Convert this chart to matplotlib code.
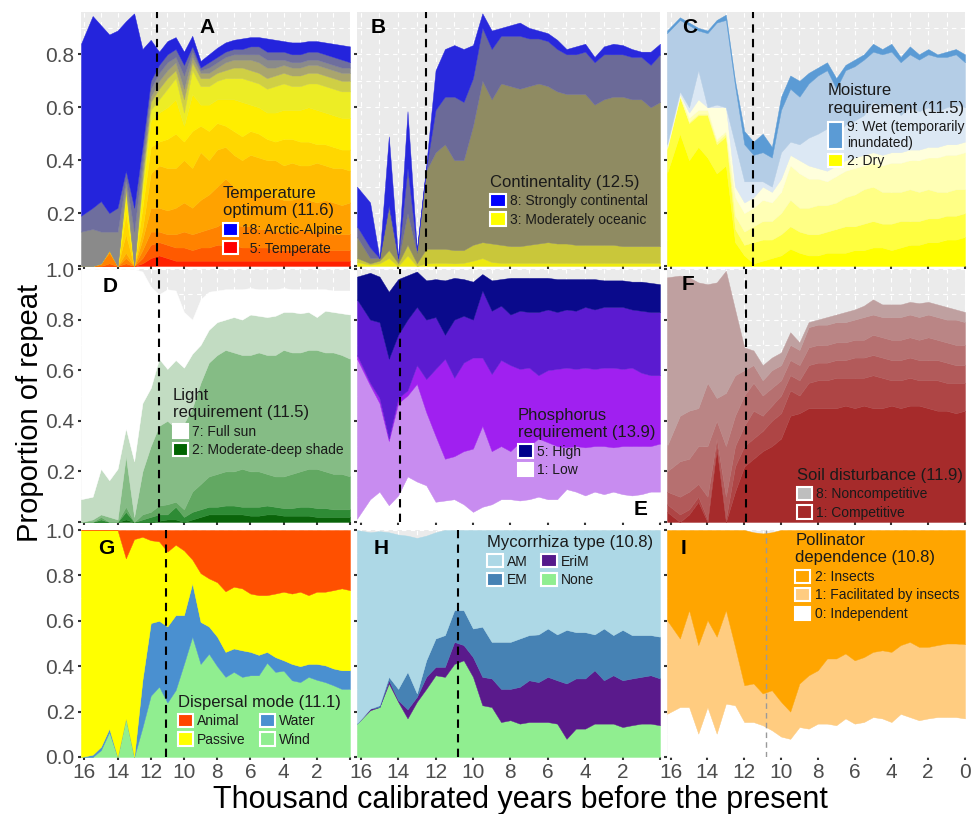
import numpy as np
import matplotlib
matplotlib.use('Agg')
import matplotlib.pyplot as plt
from matplotlib.patches import Patch, Rectangle
from matplotlib.legend_handler import HandlerPatch
from matplotlib.ticker import MultipleLocator

plt.rcParams['font.family'] = ['Liberation Sans', 'DejaVu Sans']

# time bins, thousand calibrated years BP
years = [16.2, 15.5, 15.0, 14.5, 14.0, 13.5, 13.0, 12.5, 12.0, 11.5, 11.0,
         10.5, 10.0, 9.5, 9.0, 8.5, 8.0, 7.5, 7.0, 6.5, 6.0, 5.5,
         5.0, 4.5, 4.0, 3.5, 3.0, 2.5, 2.0, 1.5, 1.0, 0.5, 0.0]

# ---- A: temperature optimum (cumulative tops, bottom band first)
a_red = [0.0, 0.0, 0.0, 0.0, 0.0, 0.0, 0.0, 0.01, 0.03, 0.04, 0.03,
         0.02, 0.02, 0.02, 0.02, 0.02, 0.02, 0.02, 0.02, 0.02, 0.02, 0.02,
         0.02, 0.02, 0.02, 0.02, 0.02, 0.02, 0.02, 0.02, 0.02, 0.02, 0.02]
a_redorange = [0.0, 0.0, 0.0, 0.01, 0.0, 0.01, 0.0, 0.03, 0.08, 0.09, 0.08,
               0.07, 0.07, 0.06, 0.07, 0.07, 0.08, 0.08, 0.08, 0.07, 0.07, 0.07,
               0.07, 0.06, 0.06, 0.06, 0.07, 0.06, 0.06, 0.06, 0.06, 0.06, 0.06]
a_darkorange = [0.0, 0.0, 0.01, 0.05, 0.0, 0.03, 0.0, 0.06, 0.13, 0.13, 0.12,
                0.12, 0.13, 0.12, 0.13, 0.14, 0.15, 0.17, 0.16, 0.15, 0.15, 0.14,
                0.14, 0.13, 0.13, 0.13, 0.14, 0.13, 0.13, 0.13, 0.12, 0.12, 0.12]
a_orange = [0.0, 0.0, 0.01, 0.06, 0.0, 0.05, 0.0, 0.10, 0.22, 0.22, 0.21,
            0.22, 0.24, 0.22, 0.25, 0.27, 0.30, 0.33, 0.30, 0.28, 0.29, 0.27,
            0.27, 0.26, 0.25, 0.25, 0.26, 0.25, 0.24, 0.25, 0.24, 0.23, 0.24]
a_amber = [0.0, 0.0, 0.01, 0.06, 0.0, 0.12, 0.0, 0.14, 0.35, 0.38, 0.37,
           0.37, 0.40, 0.37, 0.43, 0.40, 0.44, 0.45, 0.42, 0.40, 0.42, 0.41,
           0.40, 0.40, 0.38, 0.39, 0.38, 0.38, 0.39, 0.38, 0.37, 0.37, 0.36]
a_gold = [0.0, 0.0, 0.01, 0.06, 0.0, 0.20, 0.0, 0.22, 0.45, 0.47, 0.48,
          0.50, 0.47, 0.51, 0.53, 0.51, 0.54, 0.53, 0.51, 0.49, 0.51, 0.50,
          0.48, 0.47, 0.48, 0.48, 0.47, 0.47, 0.46, 0.46, 0.45, 0.44, 0.44]
a_yellow = [0.0, 0.0, 0.01, 0.06, 0.0, 0.26, 0.0, 0.28, 0.55, 0.58, 0.60,
            0.63, 0.53, 0.65, 0.61, 0.61, 0.63, 0.63, 0.63, 0.62, 0.61, 0.60,
            0.58, 0.58, 0.59, 0.59, 0.59, 0.60, 0.59, 0.58, 0.57, 0.56, 0.56]
a_lime = [0.0, 0.0, 0.01, 0.06, 0.0, 0.28, 0.0, 0.31, 0.59, 0.63, 0.67,
          0.71, 0.58, 0.74, 0.68, 0.68, 0.70, 0.71, 0.71, 0.71, 0.70, 0.69,
          0.67, 0.68, 0.69, 0.68, 0.68, 0.69, 0.69, 0.68, 0.67, 0.66, 0.66]
a_olive = [0.0, 0.0, 0.01, 0.06, 0.0, 0.29, 0.0, 0.33, 0.62, 0.67, 0.71,
           0.74, 0.63, 0.77, 0.71, 0.71, 0.73, 0.74, 0.75, 0.75, 0.74, 0.73,
           0.71, 0.72, 0.73, 0.72, 0.72, 0.73, 0.73, 0.72, 0.71, 0.70, 0.70]
a_olivegray = [0.0, 0.0, 0.01, 0.06, 0.0, 0.31, 0.0, 0.36, 0.64, 0.70, 0.74,
               0.77, 0.67, 0.79, 0.73, 0.73, 0.75, 0.77, 0.78, 0.78, 0.78, 0.77,
               0.75, 0.75, 0.76, 0.75, 0.75, 0.76, 0.76, 0.75, 0.74, 0.73, 0.73]
a_gray = [0.13, 0.14, 0.13, 0.13, 0.13, 0.33, 0.13, 0.40, 0.67, 0.73, 0.77,
          0.79, 0.72, 0.81, 0.74, 0.75, 0.77, 0.79, 0.80, 0.80, 0.80, 0.80,
          0.78, 0.78, 0.78, 0.77, 0.77, 0.78, 0.78, 0.77, 0.76, 0.75, 0.75]
a_slate = [0.19, 0.22, 0.245, 0.20, 0.22, 0.36, 0.22, 0.45, 0.70, 0.76, 0.80,
           0.82, 0.76, 0.83, 0.75, 0.77, 0.79, 0.81, 0.82, 0.82, 0.83, 0.83,
           0.81, 0.81, 0.81, 0.80, 0.80, 0.81, 0.81, 0.80, 0.79, 0.78, 0.77]
a_blue = [0.84, 0.945, 0.91, 0.875, 0.89, 0.925, 0.955, 0.82, 0.855, 0.81, 0.85,
          0.865, 0.81, 0.87, 0.775, 0.80, 0.825, 0.845, 0.855, 0.86, 0.865, 0.865,
          0.86, 0.855, 0.85, 0.845, 0.845, 0.85, 0.85, 0.845, 0.84, 0.835, 0.83]

# ---- B: continentality
b_yellow = [0.015, 0.005, 0.01, 0.03, 0.0, 0.04, 0.0, 0.01, 0.012, 0.012, 0.01,
            0.012, 0.02, 0.03, 0.015, 0.012, 0.012, 0.012, 0.012, 0.012, 0.012, 0.012,
            0.012, 0.012, 0.012, 0.012, 0.012, 0.012, 0.012, 0.012, 0.012, 0.012, 0.012]
b_khaki = [0.03, 0.01, 0.02, 0.06, 0.01, 0.08, 0.01, 0.065, 0.065, 0.065, 0.06,
           0.06, 0.08, 0.09, 0.085, 0.08, 0.075, 0.075, 0.08, 0.085, 0.09, 0.085,
           0.085, 0.08, 0.08, 0.08, 0.08, 0.08, 0.075, 0.075, 0.075, 0.075, 0.075]
b_olive = [0.11, 0.03, 0.03, 0.22, 0.02, 0.20, 0.05, 0.36, 0.43, 0.46, 0.40,
           0.40, 0.53, 0.70, 0.63, 0.69, 0.68, 0.67, 0.68, 0.69, 0.68, 0.66,
           0.65, 0.65, 0.65, 0.61, 0.63, 0.64, 0.64, 0.63, 0.63, 0.60, 0.62]
b_slate = [0.15, 0.07, 0.03, 0.23, 0.03, 0.37, 0.06, 0.37, 0.59, 0.64, 0.64,
           0.62, 0.71, 0.90, 0.82, 0.87, 0.87, 0.87, 0.86, 0.86, 0.85, 0.82,
           0.80, 0.80, 0.81, 0.77, 0.80, 0.80, 0.80, 0.79, 0.79, 0.76, 0.80]
b_blue = [0.30, 0.24, 0.03, 0.49, 0.03, 0.585, 0.06, 0.38, 0.74, 0.82, 0.835,
          0.82, 0.835, 0.955, 0.89, 0.90, 0.91, 0.92, 0.90, 0.89, 0.88, 0.855,
          0.82, 0.83, 0.84, 0.79, 0.83, 0.84, 0.835, 0.82, 0.81, 0.81, 0.84]

# ---- C: moisture requirement
c_dry = [0.35, 0.50, 0.40, 0.45, 0.41, 0.35, 0.38, 0.09, 0.04, 0.01, 0.02,
         0.03, 0.04, 0.065, 0.05, 0.04, 0.04, 0.05, 0.05, 0.05, 0.06, 0.06,
         0.07, 0.07, 0.06, 0.07, 0.08, 0.08, 0.09, 0.09, 0.10, 0.10, 0.11]
c_3 = [0.44, 0.64, 0.54, 0.57, 0.57, 0.46, 0.49, 0.14, 0.08, 0.09, 0.10,
       0.10, 0.12, 0.15, 0.13, 0.12, 0.12, 0.13, 0.14, 0.15, 0.15, 0.16,
       0.17, 0.16, 0.16, 0.17, 0.17, 0.17, 0.18, 0.18, 0.19, 0.19, 0.20]
c_4 = [0.445, 0.64, 0.545, 0.575, 0.575, 0.47, 0.50, 0.19, 0.13, 0.15, 0.17,
       0.17, 0.20, 0.25, 0.22, 0.22, 0.23, 0.23, 0.24, 0.26, 0.27, 0.29,
       0.30, 0.28, 0.28, 0.28, 0.29, 0.28, 0.29, 0.28, 0.28, 0.29, 0.29]
c_5 = [0.45, 0.645, 0.56, 0.59, 0.59, 0.48, 0.51, 0.26, 0.20, 0.22, 0.25,
       0.24, 0.28, 0.38, 0.35, 0.33, 0.33, 0.32, 0.34, 0.36, 0.37, 0.38,
       0.39, 0.38, 0.39, 0.39, 0.40, 0.40, 0.41, 0.41, 0.42, 0.42, 0.43]
c_6 = [0.45, 0.65, 0.58, 0.63, 0.60, 0.60, 0.60, 0.30, 0.24, 0.26, 0.30,
       0.28, 0.33, 0.42, 0.40, 0.38, 0.37, 0.36, 0.38, 0.40, 0.41, 0.42,
       0.43, 0.42, 0.43, 0.43, 0.44, 0.44, 0.45, 0.45, 0.46, 0.46, 0.47]
c_7 = [0.46, 0.66, 0.60, 0.74, 0.60, 0.61, 0.60, 0.46, 0.32, 0.32, 0.32,
       0.30, 0.43, 0.47, 0.46, 0.485, 0.50, 0.52, 0.49, 0.535, 0.55, 0.57,
       0.62, 0.60, 0.62, 0.57, 0.60, 0.585, 0.60, 0.585, 0.60, 0.61, 0.60]
c_8 = [0.88, 0.93, 0.91, 0.89, 0.88, 0.92, 0.93, 0.68, 0.46, 0.42, 0.43,
       0.41, 0.59, 0.67, 0.64, 0.69, 0.72, 0.74, 0.67, 0.74, 0.755, 0.78,
       0.81, 0.80, 0.81, 0.77, 0.80, 0.78, 0.80, 0.79, 0.79, 0.80, 0.77]
c_wet = [0.89, 0.94, 0.92, 0.90, 0.89, 0.93, 0.95, 0.70, 0.51, 0.47, 0.50,
         0.45, 0.64, 0.72, 0.70, 0.73, 0.75, 0.77, 0.71, 0.76, 0.78, 0.80,
         0.84, 0.82, 0.84, 0.79, 0.83, 0.80, 0.82, 0.80, 0.81, 0.82, 0.80]

# ---- D: light requirement
d_shade = [0.0, 0.0, 0.0, 0.0, 0.0, 0.01, 0.0, 0.0, 0.0, 0.005, 0.01,
           0.01, 0.0, 0.01, 0.02, 0.03, 0.03, 0.03, 0.03, 0.03, 0.025, 0.025,
           0.03, 0.03, 0.025, 0.025, 0.025, 0.025, 0.02, 0.02, 0.02, 0.02, 0.02]
d_3 = [0.0, 0.0, 0.01, 0.0, 0.0, 0.04, 0.0, 0.01, 0.02, 0.03, 0.03,
       0.06, 0.02, 0.04, 0.05, 0.06, 0.06, 0.065, 0.065, 0.06, 0.06, 0.06,
       0.065, 0.06, 0.055, 0.055, 0.06, 0.06, 0.055, 0.055, 0.05, 0.05, 0.05]
d_4 = [0.0, 0.0, 0.02, 0.0, 0.0, 0.06, 0.0, 0.03, 0.04, 0.065, 0.07,
       0.08, 0.05, 0.12, 0.15, 0.18, 0.19, 0.20, 0.20, 0.21, 0.20, 0.20,
       0.19, 0.18, 0.18, 0.19, 0.20, 0.21, 0.21, 0.20, 0.19, 0.19, 0.18]
d_5 = [0.0, 0.01, 0.03, 0.02, 0.01, 0.26, 0.02, 0.20, 0.30, 0.38, 0.40,
       0.37, 0.39, 0.45, 0.55, 0.63, 0.66, 0.68, 0.67, 0.66, 0.66, 0.67,
       0.66, 0.66, 0.68, 0.67, 0.67, 0.68, 0.68, 0.67, 0.67, 0.66, 0.645]
d_6 = [0.09, 0.10, 0.21, 0.165, 0.21, 0.37, 0.24, 0.47, 0.53, 0.645, 0.605,
       0.64, 0.61, 0.665, 0.70, 0.76, 0.79, 0.80, 0.81, 0.80, 0.82, 0.815,
       0.81, 0.815, 0.83, 0.83, 0.825, 0.83, 0.81, 0.835, 0.83, 0.825, 0.82]
d_sun = [1.0, 1.0, 1.0, 1.0, 1.0, 1.0, 1.0, 0.99, 0.93, 0.90, 0.92,
         0.915, 0.83, 0.80, 0.88, 0.91, 0.915, 0.92, 0.92, 0.92, 0.925, 0.92,
         0.92, 0.92, 0.925, 0.92, 0.92, 0.92, 0.92, 0.92, 0.915, 0.915, 0.915]

# ---- E: phosphorus requirement
e_low = [0.013, 0.09, 0.12, 0.066, 0.105, 0.18, 0.16, 0.145, 0.08, 0.085, 0.09,
         0.07, 0.04, 0.06, 0.07, 0.09, 0.09, 0.085, 0.09, 0.10, 0.09, 0.09,
         0.13, 0.12, 0.105, 0.12, 0.11, 0.12, 0.11, 0.105, 0.11, 0.12, 0.12]
e_2 = [0.645, 0.54, 0.47, 0.32, 0.47, 0.50, 0.546, 0.434, 0.34, 0.25, 0.26,
       0.28, 0.29, 0.38, 0.28, 0.30, 0.28, 0.315, 0.30, 0.33, 0.315, 0.30,
       0.295, 0.30, 0.295, 0.30, 0.30, 0.295, 0.30, 0.30, 0.30, 0.30, 0.31]
e_3 = [0.66, 0.55, 0.49, 0.33, 0.49, 0.52, 0.62, 0.565, 0.605, 0.645, 0.57,
       0.63, 0.65, 0.65, 0.585, 0.64, 0.62, 0.605, 0.61, 0.58, 0.60, 0.605,
       0.61, 0.605, 0.61, 0.605, 0.61, 0.61, 0.605, 0.61, 0.59, 0.58, 0.58]
e_4 = [0.88, 0.80, 0.79, 0.645, 0.74, 0.80, 0.85, 0.80, 0.81, 0.74, 0.80,
       0.815, 0.80, 0.915, 0.835, 0.855, 0.82, 0.835, 0.83, 0.83, 0.84, 0.83,
       0.84, 0.835, 0.85, 0.84, 0.85, 0.85, 0.85, 0.84, 0.835, 0.83, 0.83]
e_high = [0.97, 0.985, 0.97, 0.91, 0.96, 0.975, 0.99, 0.955, 0.96, 0.955, 0.965,
          0.96, 0.95, 0.98, 0.955, 0.96, 0.965, 0.965, 0.965, 0.965, 0.965, 0.96,
          0.96, 0.96, 0.96, 0.96, 0.955, 0.955, 0.955, 0.95, 0.95, 0.945, 0.94]

# ---- F: soil disturbance
f_comp = [0.04, 0.0, 0.03, 0.08, 0.0, 0.29, 0.0, 0.12, 0.22, 0.25, 0.28,
          0.30, 0.33, 0.42, 0.43, 0.45, 0.45, 0.45, 0.45, 0.46, 0.45, 0.46,
          0.45, 0.45, 0.46, 0.45, 0.46, 0.46, 0.45, 0.44, 0.44, 0.43, 0.44]
f_2 = [0.07, 0.03, 0.05, 0.10, 0.01, 0.31, 0.01, 0.22, 0.30, 0.33, 0.36,
       0.40, 0.43, 0.52, 0.50, 0.55, 0.56, 0.56, 0.57, 0.57, 0.57, 0.57,
       0.58, 0.57, 0.56, 0.56, 0.57, 0.56, 0.56, 0.56, 0.55, 0.55, 0.55]
f_3 = [0.12, 0.10, 0.12, 0.15, 0.10, 0.33, 0.10, 0.30, 0.38, 0.44, 0.42,
       0.46, 0.50, 0.58, 0.56, 0.62, 0.63, 0.63, 0.64, 0.64, 0.65, 0.65,
       0.66, 0.65, 0.64, 0.64, 0.65, 0.64, 0.64, 0.64, 0.63, 0.62, 0.62]
f_4 = [0.20, 0.24, 0.25, 0.30, 0.30, 0.40, 0.30, 0.42, 0.50, 0.55, 0.50,
       0.53, 0.56, 0.64, 0.62, 0.69, 0.70, 0.70, 0.71, 0.71, 0.72, 0.72,
       0.74, 0.73, 0.72, 0.72, 0.73, 0.72, 0.73, 0.72, 0.71, 0.70, 0.70]
f_5 = [0.30, 0.42, 0.44, 0.45, 0.55, 0.49, 0.51, 0.58, 0.60, 0.62, 0.56,
       0.60, 0.62, 0.70, 0.68, 0.77, 0.78, 0.78, 0.79, 0.79, 0.80, 0.81,
       0.82, 0.81, 0.81, 0.81, 0.82, 0.81, 0.82, 0.81, 0.80, 0.80, 0.79]
f_noncomp = [0.967, 0.974, 0.967, 0.947, 0.94, 0.947, 0.993, 0.84, 0.69, 0.678, 0.62,
             0.65, 0.67, 0.75, 0.71, 0.79, 0.80, 0.81, 0.82, 0.83, 0.84, 0.855,
             0.88, 0.86, 0.86, 0.86, 0.87, 0.865, 0.87, 0.86, 0.85, 0.84, 0.83]

# ---- G: dispersal mode
g_wind = [0.0, 0.0, 0.03, 0.11, 0.0, 0.17, 0.0, 0.13, 0.27, 0.31, 0.24,
          0.295, 0.41, 0.53, 0.41, 0.455, 0.40, 0.353, 0.375, 0.353, 0.36, 0.36,
          0.415, 0.375, 0.38, 0.338, 0.33, 0.353, 0.34, 0.33, 0.316, 0.30, 0.30]
g_water = [0.0, 0.01, 0.045, 0.125, 0.0, 0.17, 0.0, 0.34, 0.59, 0.60, 0.575,
           0.625, 0.625, 0.765, 0.595, 0.575, 0.53, 0.463, 0.478, 0.47, 0.463, 0.45,
           0.463, 0.44, 0.426, 0.41, 0.40, 0.41, 0.41, 0.404, 0.39, 0.382, 0.382]
g_passive = [1.0, 1.0, 1.0, 1.0, 1.0, 0.875, 0.96, 0.97, 0.955, 0.95, 0.905,
             0.935, 0.91, 0.87, 0.81, 0.787, 0.77, 0.73, 0.75, 0.743, 0.72, 0.713,
             0.713, 0.72, 0.728, 0.72, 0.728, 0.713, 0.728, 0.728, 0.735, 0.743, 0.735]
g_animal = [1.0, 1.0, 1.0, 1.0, 1.0, 1.0, 1.0, 1.0, 1.0, 1.0, 1.0,
            1.0, 1.0, 1.0, 1.0, 1.0, 1.0, 1.0, 1.0, 1.0, 1.0, 1.0,
            1.0, 1.0, 1.0, 1.0, 1.0, 1.0, 1.0, 1.0, 1.0, 1.0, 1.0]

# ---- H: mycorrhiza type
h_none = [0.147, 0.206, 0.22, 0.324, 0.243, 0.17, 0.243, 0.30, 0.36, 0.353, 0.41,
          0.426, 0.353, 0.228, 0.22, 0.154, 0.162, 0.147, 0.154, 0.154, 0.154, 0.147,
          0.08, 0.125, 0.125, 0.147, 0.147, 0.147, 0.132, 0.14, 0.147, 0.147, 0.14]
h_erim = [0.147, 0.213, 0.22, 0.338, 0.25, 0.21, 0.265, 0.353, 0.397, 0.397, 0.507,
          0.493, 0.44, 0.353, 0.346, 0.30, 0.30, 0.309, 0.338, 0.33, 0.353, 0.338,
          0.324, 0.346, 0.346, 0.382, 0.338, 0.36, 0.338, 0.346, 0.353, 0.36, 0.346]
h_em = [0.147, 0.213, 0.228, 0.353, 0.30, 0.375, 0.28, 0.426, 0.522, 0.537, 0.647,
        0.647, 0.566, 0.574, 0.507, 0.507, 0.507, 0.522, 0.537, 0.54, 0.566, 0.54,
        0.56, 0.55, 0.55, 0.54, 0.566, 0.537, 0.56, 0.537, 0.537, 0.537, 0.53]
h_am = [1.0, 0.99, 0.995, 0.99, 0.98, 0.975, 0.965, 0.975, 0.99, 1.0, 1.0,
        1.0, 1.0, 1.0, 1.0, 1.0, 1.0, 1.0, 1.0, 1.0, 1.0, 1.0,
        1.0, 1.0, 1.0, 1.0, 1.0, 1.0, 1.0, 1.0, 1.0, 1.0, 1.0]

# ---- I: pollinator dependence
i_indep = [0.19, 0.22, 0.22, 0.103, 0.22, 0.103, 0.235, 0.228, 0.154, 0.154, 0.14,
           0.118, 0.09, 0.08, 0.132, 0.125, 0.147, 0.147, 0.14, 0.17, 0.147, 0.154,
           0.176, 0.17, 0.154, 0.19, 0.176, 0.162, 0.17, 0.176, 0.176, 0.176, 0.17]
i_facil = [0.603, 0.522, 0.647, 0.493, 0.603, 0.53, 0.647, 0.485, 0.316, 0.324, 0.28,
           0.294, 0.243, 0.20, 0.324, 0.36, 0.382, 0.434, 0.434, 0.456, 0.426, 0.44,
           0.463, 0.47, 0.463, 0.493, 0.507, 0.485, 0.485, 0.493, 0.50, 0.50, 0.497]
i_insects = [1.0, 1.0, 1.0, 1.0, 1.0, 1.0, 1.0, 1.0, 1.0, 0.99, 0.985,
             0.99, 1.0, 1.0, 1.0, 1.0, 1.0, 1.0, 1.0, 1.0, 1.0, 1.0,
             1.0, 1.0, 1.0, 1.0, 1.0, 1.0, 1.0, 1.0, 1.0, 1.0, 1.0]

# change points (dashed lines)
breaks = {'A': 11.6, 'B': 12.5, 'C': 11.5, 'D': 11.5, 'E': 13.9,
          'F': 11.9, 'G': 11.1, 'H': 10.8, 'I': 10.8}

xticks = [16, 14, 12, 10, 8, 6, 4, 2, 0]

W, H = 972, 814
fig = plt.figure(figsize=(W / 100, H / 100), dpi=100)
col_px = [(81, 350), (357, 660), (667, 965)]
row_px = [(12, 266), (269, 522), (530, 757)]


def panel(col, row):
    x0, x1 = col_px[col]
    y0, y1 = row_px[row]
    ax = fig.add_axes([x0 / W, 1 - y1 / H, (x1 - x0) / W, (y1 - y0) / H])
    ax.set_facecolor('#EBEBEB')
    ax.set_xlim(16.2, 0)
    ax.set_ylim(0, 0.96 if row == 0 else 1.0)
    ax.xaxis.set_major_locator(MultipleLocator(2))
    ax.xaxis.set_minor_locator(MultipleLocator(1))
    ax.yaxis.set_major_locator(MultipleLocator(0.2))
    ax.yaxis.set_minor_locator(MultipleLocator(0.1))
    ax.grid(which='both', color='white', ls=(0, (4, 4)), lw=0.8)
    ax.set_axisbelow(True)
    for s in ax.spines.values():
        s.set_visible(False)
    ax.tick_params(which='major', length=2.5, width=1.5, color='#333333',
                   labelsize=15, labelcolor='#4D4D4D', pad=2)
    ax.tick_params(which='minor', length=0)
    ax.set_xticks(xticks)
    if row == 2:
        labs = [str(t) for t in xticks]
        if col < 2:
            labs[-1] = ''
        ax.set_xticklabels(labs)
    else:
        ax.tick_params(labelbottom=False)
    if row == 0:
        ax.set_yticks([0, 0.2, 0.4, 0.6, 0.8])
        ylabs = ['', '0.2', '0.4', '0.6', '0.8']
    elif row == 1:
        ax.set_yticks([0, 0.2, 0.4, 0.6, 0.8, 1.0])
        ylabs = ['', '0.2', '0.4', '0.6', '0.8', '1.0']
    else:
        ax.set_yticks([0, 0.2, 0.4, 0.6, 0.8, 1.0])
        ylabs = ['0.0', '0.2', '0.4', '0.6', '0.8', '1.0']
    if col == 0:
        ax.set_yticklabels(ylabs)
    else:
        ax.tick_params(labelleft=False)
    return ax


def stack(ax, bands, colors):
    lower = np.zeros(len(years))
    for upper, c in zip(bands, colors):
        upper = np.asarray(upper)
        ax.fill_between(years, lower, upper, facecolor=c, edgecolor=c, lw=0.3)
        lower = upper


def tall_key(legend, orig_handle, xdescent, ydescent, width, height, fontsize):
    return Rectangle((-xdescent, -ydescent - 0.5 * height), width, 2.0 * height)


def legend(ax, title, labels, colors, anchor, ncol=1, tall=False):
    handles = [Patch(facecolor=c, edgecolor='white', linewidth=1.5) for c in colors]
    hmap = {handles[0]: HandlerPatch(patch_func=tall_key)} if tall else {}
    leg = ax.legend(handles, labels, title=title, loc='upper left',
                    bbox_to_anchor=anchor, ncol=ncol, frameon=False,
                    fontsize=10, title_fontsize=12, handlelength=1.1,
                    handleheight=1.1, handletextpad=0.3, labelspacing=0.3,
                    borderpad=0, borderaxespad=0, columnspacing=1.0,
                    alignment='left', handler_map=hmap)
    for t in leg.get_texts():
        t.set_color('#1A1A1A')
    leg.get_title().set_color('#1A1A1A')


def finish(ax, key, pos, lcolor='black', lw=1.5):
    ax.axvline(breaks[key], color=lcolor, ls=(0, (4, 3)), lw=lw)
    ax.text(pos[0], pos[1], key, transform=ax.transAxes, fontsize=15,
            fontweight='bold', ha='center', va='center')


# A
ax = panel(0, 0)
stack(ax, [a_red, a_redorange, a_darkorange, a_orange, a_amber, a_gold, a_yellow,
           a_lime, a_olive, a_olivegray, a_gray, a_slate, a_blue],
      ['#FF2000', '#FF5A00', '#FF8200', '#FFA200', '#FFBE00', '#FFD700', '#FFEE00',
       '#EDED25', '#CFCF45', '#A9A56E', '#8A8A8A', '#6E6E9E', '#2424DC'])
finish(ax, 'A', (0.47, 0.94))
legend(ax, 'Temperature\noptimum (11.6)', ['18: Arctic-Alpine', '  5: Temperate'],
       ['#0000FF', '#FF0000'], (0.528, 0.315))

# B
ax = panel(1, 0)
stack(ax, [b_yellow, b_khaki, b_olive, b_slate, b_blue],
      ['#EEEA10', '#C9C73A', '#8F8B62', '#6B6A98', '#2828DC'])
finish(ax, 'B', (0.07, 0.94))
legend(ax, 'Continentality (12.5)', ['8: Strongly continental', '3: Moderately oceanic'],
       ['#0000FF', '#FFFF00'], (0.44, 0.36))

# C
ax = panel(2, 0)
stack(ax, [c_dry, c_3, c_4, c_5, c_6, c_7, c_8, c_wet],
      ['#FFFF00', '#FFFF40', '#FFFF85', '#FFFFB5', '#FFFFDC', '#DCE8F4',
       '#B4CDE6', '#5B9BD5'])
finish(ax, 'C', (0.076, 0.94))
legend(ax, 'Moisture\nrequirement (11.5)', ['9: Wet (temporarily\ninundated)', '2: Dry'],
       ['#5B9BD5', '#FFFF00'], (0.54, 0.72), tall=True)

# D
ax = panel(0, 1)
stack(ax, [d_shade, d_3, d_4, d_5, d_6, d_sun],
      ['#0A640A', '#2E8B35', '#62A862', '#85BC85', '#C2DCC2', '#FFFFFF'])
finish(ax, 'D', (0.108, 0.93))
legend(ax, 'Light\nrequirement (11.5)', ['7: Full sun', '2: Moderate-deep shade'],
       ['#FFFFFF', '#006400'], (0.342, 0.53))

# E
ax = panel(1, 1)
stack(ax, [e_low, e_2, e_3, e_4, e_high],
      ['#FFFFFF', '#C88CF0', '#A020F0', '#5B1BD0', '#0A0A8C'])
finish(ax, 'E', (0.935, 0.05))
legend(ax, 'Phosphorus\nrequirement (13.9)', ['5: High', '1: Low'],
       ['#00008B', '#FFFFFF'], (0.531, 0.452))

# F
ax = panel(2, 1)
stack(ax, [f_comp, f_2, f_3, f_4, f_5, f_noncomp],
      ['#A62B2B', '#AE4545', '#B25A5A', '#B67070', '#BA8585', '#BFA0A0'])
finish(ax, 'F', (0.07, 0.94))
legend(ax, 'Soil disturbance (11.9)', ['8: Noncompetitive', '1: Competitive'],
       ['#BEBEBE', '#A52A2A'], (0.435, 0.215))

# G
ax = panel(0, 2)
stack(ax, [g_wind, g_water, g_passive, g_animal],
      ['#90EE90', '#4A90D0', '#FFFF00', '#FF5000'])
finish(ax, 'G', (0.093, 0.917))
legend(ax, 'Dispersal mode (11.1)', ['Animal', 'Passive', 'Water', 'Wind'],
       ['#FF4500', '#FFFF00', '#4A90D0', '#90EE90'], (0.36, 0.275), ncol=2)

# H
ax = panel(1, 2)
stack(ax, [h_none, h_erim, h_em, h_am],
      ['#90EE90', '#5A1A8C', '#4682B4', '#ADD8E6'])
finish(ax, 'H', (0.08, 0.92))
legend(ax, 'Mycorrhiza type (10.8)', ['AM', 'EM', 'EriM', 'None'],
       ['#ADD8E6', '#4682B4', '#551A8B', '#90EE90'], (0.43, 0.978), ncol=2)

# I
ax = panel(2, 2)
stack(ax, [i_indep, i_facil, i_insects], ['#FFFFFF', '#FFCC80', '#FFA500'])
finish(ax, 'I', (0.056, 0.92), lcolor='#9A9A9A', lw=1.0)
legend(ax, 'Pollinator\ndependence (10.8)',
       ['2: Insects', '1: Facilitated by insects', '0: Independent'],
       ['#FFA500', '#FFCC80', '#FFFFFF'], (0.43, 0.987))

fig.text(520 / W, 1 - 800 / H, 'Thousand calibrated years before the present',
         ha='center', va='center', fontsize=22)
fig.text(30 / W, 1 - 413 / H, 'Proportion of repeat', rotation=90,
         ha='center', va='center', fontsize=21)

fig.savefig('out.png', dpi=100)
